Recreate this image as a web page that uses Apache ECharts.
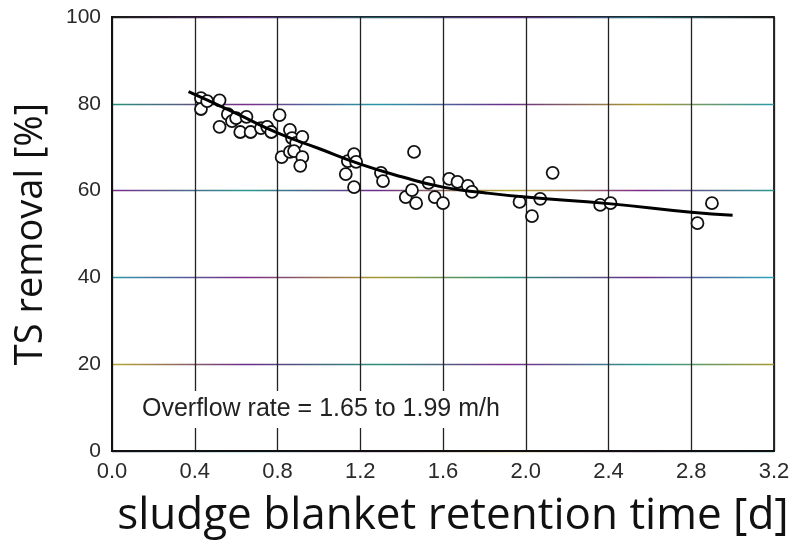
<!DOCTYPE html>
<html>
<head>
<meta charset="utf-8">
<script src="https://cdn.jsdelivr.net/npm/echarts@6/dist/echarts.min.js"></script>
<style>
    html, body { margin: 0; padding: 0; background: #fff; }
    #chart { width: 795px; height: 546px; }
</style>
</head>
<body>
<div id="chart"></div>
<script>
// measured points: retention time [d] / TS removal [%]
var obsTime = [0.43, 0.43, 0.46, 0.52, 0.52, 0.56, 0.58, 0.60, 0.65, 0.62,
    0.67, 0.72, 0.75, 0.77, 0.81, 0.82, 0.86, 0.87, 0.86, 0.89,
    0.88, 0.92, 0.92, 0.91, 1.14, 1.17, 1.18, 1.13, 1.17, 1.30,
    1.31, 1.46, 1.42, 1.45, 1.47, 1.53, 1.56, 1.60, 1.63, 1.67,
    1.72, 1.74, 1.97, 2.03, 2.07, 2.13, 2.36, 2.41, 2.83, 2.90];
var obsRemoval = [81.3, 78.8, 80.6, 80.8, 74.7, 77.6, 76.0, 76.7, 77.0, 73.5,
    73.5, 74.4, 74.7, 73.5, 77.4, 67.7, 74.0, 72.1, 68.9, 71.0,
    69.1, 72.4, 67.7, 65.7, 66.8, 68.4, 66.6, 63.8, 60.8, 64.1,
    62.2, 68.9, 58.5, 60.1, 57.1, 61.8, 58.5, 57.1, 62.7, 62.0,
    61.1, 59.7, 57.4, 54.1, 58.1, 64.1, 56.7, 57.1, 52.5, 57.1];

// fitted trend curve
var fitTime = [0.37, 0.6, 0.8, 1.0, 1.2, 1.4, 1.6, 1.8, 2.0, 2.4, 2.8, 3.0];
var fitRemoval = [82.8, 77.8, 73.3, 69.7, 66.1, 63.2, 60.8, 59.5, 58.5, 57.0, 55.0, 54.3];

var xTicks = [0, 0.4, 0.8, 1.2, 1.6, 2.0, 2.4, 2.8, 3.2];
var yTicks = [0, 20, 40, 60, 80, 100];

var chart = echarts.init(document.getElementById("chart"));

function zip(xs, ys) {
    return xs.map(function (x, i) {
        return [x, ys[i]];
    });
}

// scanned grid lines have a colour fringe
function fringe(stops) {
    return {
        type: "linear", x: 112, y: 0, x2: 774, y2: 0, global: true,
        colorStops: stops.map(function (c, i) {
            return {offset: i / (stops.length - 1), color: c};
        })
    };
}

var hLineColors = [
    fringe(["#2a2a70", "#2a9890", "#7a2c8a", "#b8a830", "#5a2c7a", "#2a98a8"]),
    fringe(["#b8a830", "#6a2c8a", "#2a907a", "#7a2c8a", "#2a9890", "#a89830"]),
    fringe(["#2a98a8", "#7a2c8a", "#a89830", "#2a907a", "#6a2c8a", "#2aa8b8"]),
    fringe(["#7a2c8a", "#2a9890", "#6a2c8a", "#b8a830", "#7a2c8a", "#2a9890"]),
    fringe(["#2a907a", "#7a2c8a", "#2a98a8", "#6a2c8a", "#a89830", "#2a98a8"]),
    fringe(["#1a1a1a", "#5a2c7a", "#2a5a6a", "#5a2c7a", "#2a6a7a", "#1a1a1a"])
];

var option = {
    animation: false,
    textStyle: {
        fontFamily: "'Liberation Sans', Arial, sans-serif"
    },
    grid: {
        left: 112,
        right: 21,
        top: 17,
        bottom: 95,
        show: true,
        borderColor: "#1a1a1a",
        borderWidth: 1.8,
        backgroundColor: "#fff"
    },
    xAxis: {
        type: "value",
        min: xTicks[0],
        max: xTicks[xTicks.length - 1],
        interval: 0.4,
        name: "sludge blanket retention time [d]",
        nameLocation: "middle",
        nameGap: 43,
        nameTextStyle: {
            fontFamily: "'Open Sans', 'Noto Sans', sans-serif",
            fontSize: 44,
            color: "#111",
            padding: [0, 0, 0, 20]
        },
        axisLine: {show: true, lineStyle: {color: "#111", width: 2}},
        axisTick: {show: false},
        axisLabel: {
            margin: 10,
            fontSize: 22,
            color: "#2a2a2a",
            formatter: function (v) {
                return v.toFixed(1);
            }
        },
        splitLine: {show: true, lineStyle: {color: "#222", width: 1.3}}
    },
    yAxis: {
        type: "value",
        min: yTicks[0],
        max: yTicks[yTicks.length - 1],
        interval: 20,
        name: "TS removal [%]",
        nameLocation: "middle",
        nameRotate: 90,
        nameGap: 62,
        nameTextStyle: {
            fontFamily: "'Open Sans', 'Noto Sans', sans-serif",
            fontSize: 38,
            color: "#111"
        },
        axisLine: {show: true, lineStyle: {color: "#111", width: 2}},
        axisTick: {show: false},
        axisLabel: {
            margin: 11,
            fontSize: 21,
            color: "#2a2a2a"
        },
        splitLine: {show: true, lineStyle: {color: hLineColors, width: 1.4}}
    },
    graphic: [{
        type: "text",
        left: 138,
        top: 391,
        z: 10,
        style: {
            text: "Overflow rate = 1.65 to 1.99 m/h",
            font: "25px 'Liberation Sans', Arial, sans-serif",
            fill: "#222",
            backgroundColor: "#fff",
            padding: [6, 4, 6, 4]
        }
    }],
    series: [
        {
            name: "data",
            type: "scatter",
            data: zip(obsTime, obsRemoval),
            symbol: "circle",
            symbolSize: 12,
            itemStyle: {
                color: "#fff",
                borderColor: "#111",
                borderWidth: 1.8,
                opacity: 1
            },
            z: 3
        },
        {
            name: "fit",
            type: "line",
            data: zip(fitTime, fitRemoval),
            smooth: true,
            showSymbol: false,
            lineStyle: {color: "#000", width: 3},
            z: 4
        }
    ]
};

chart.setOption(option);
</script>
</body>
</html>
